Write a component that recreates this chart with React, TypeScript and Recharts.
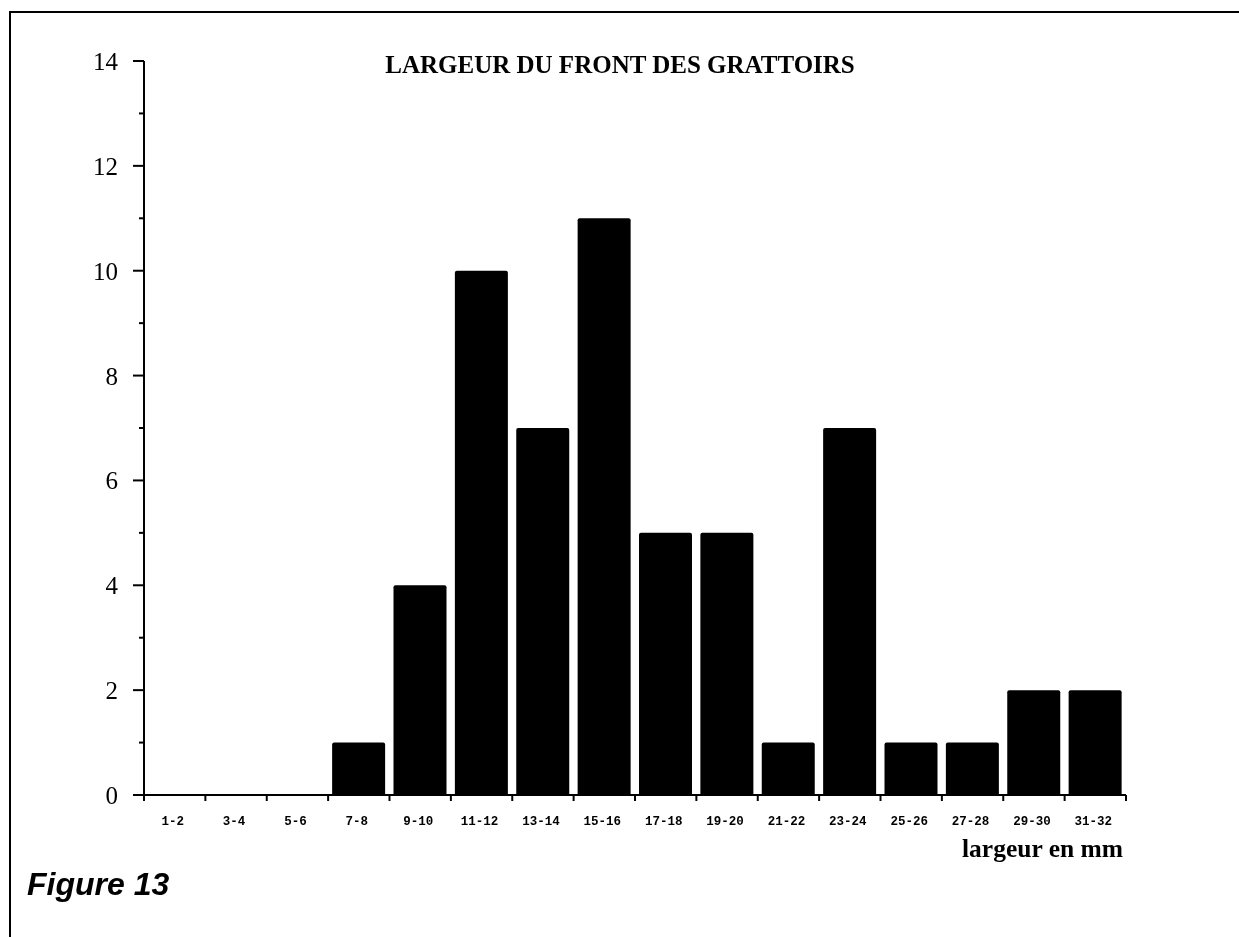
import React from 'react';
import { BarChart, Bar, XAxis, YAxis } from 'recharts';

const categories = ['1-2', '3-4', '5-6', '7-8', '9-10', '11-12', '13-14', '15-16', '17-18', '19-20', '21-22', '23-24', '25-26', '27-28', '29-30', '31-32'];
const counts = [0, 0, 0, 1, 4, 10, 7, 11, 5, 5, 1, 7, 1, 1, 2, 2];
const yTicks = [0, 1, 2, 3, 4, 5, 6, 7, 8, 9, 10, 11, 12, 13, 14];

const data = categories.map((c, i) => ({ name: c, value: counts[i] }));

const W = 1223;
const H = 921;
const M = { top: 53, right: 105, left: 76, bottom: 94 };
const Y_W = 60;
const X_H = 40;
const PLOT_W = W - M.left - M.right - Y_W;
const BW = PLOT_W / categories.length;

const serif = '"Liberation Serif", "DejaVu Serif", serif';
const mono = '"Liberation Mono", "DejaVu Sans Mono", monospace';

const YTick = (props: any) => {
  const { x, y, payload } = props;
  const v = payload.value;
  const major = v % 2 === 0;
  return (
    <g>
      <line x1={x - (major ? 11 : 5)} x2={x} y1={y} y2={y} stroke="#000" strokeWidth={2} />
      {major && (
        <text x={x - 26} y={y + 9} textAnchor="end" fontFamily={serif} fontSize={25} fill="#000">
          {v}
        </text>
      )}
    </g>
  );
};

const XTick = (props: any) => {
  const { x, y, payload, index } = props;
  const last = index === categories.length - 1;
  return (
    <g>
      <line x1={x - BW / 2} x2={x - BW / 2} y1={y} y2={y + 6} stroke="#000" strokeWidth={2} />
      {last && <line x1={x + BW / 2} x2={x + BW / 2} y1={y} y2={y + 6} stroke="#000" strokeWidth={2} />}
      <text x={x - 2} y={y + 30} textAnchor="middle" fontFamily={mono} fontWeight="bold" fontSize={12.5} fill="#000">
        {payload.value}
      </text>
    </g>
  );
};

export default function App() {
  return (
    <div style={{ position: 'relative', width: W, height: H, background: '#fff' }}>
      <div
        style={{
          position: 'fixed',
          left: 9,
          top: 11,
          right: 0,
          bottom: 0,
          borderLeft: '2px solid #000',
          borderTop: '2px solid #000',
        }}
      />
      <div style={{ position: 'absolute', left: 0, top: 0 }}>
        <BarChart width={W} height={H} data={data} margin={M}>
          <XAxis
            dataKey="name"
            interval={0}
            tickSize={0}
            tickMargin={0}
            tickLine={false}
            axisLine={{ stroke: '#000', strokeWidth: 2 }}
            tick={<XTick />}
            height={X_H}
          />
          <YAxis
            domain={[0, 14]}
            ticks={yTicks}
            interval={0}
            tickSize={0}
            tickMargin={0}
            tickLine={false}
            axisLine={{ stroke: '#000', strokeWidth: 2 }}
            tick={<YTick />}
            width={Y_W}
            allowDecimals={false}
          />
          <Bar dataKey="value" fill="#000" barSize={53} radius={[2, 2, 0, 0]} isAnimationActive={false} />
        </BarChart>
      </div>
      <svg width={W} height={H} style={{ position: 'absolute', left: 0, top: 0, pointerEvents: 'none' }}>
        <text x={612} y={65} textAnchor="middle" fontFamily={serif} fontWeight="bold" fontSize={25} fill="#000">
          LARGEUR DU FRONT DES GRATTOIRS
        </text>
        <text x={1115} y={849} textAnchor="end" fontFamily={serif} fontWeight="bold" fontSize={25.5} fill="#000">
          largeur en mm
        </text>
        <text x={19} y={887} fontFamily={'"Liberation Sans", Arial, sans-serif'} fontWeight="bold" fontStyle="italic" fontSize={32} fill="#000">
          Figure 13
        </text>
      </svg>
    </div>
  );
}
